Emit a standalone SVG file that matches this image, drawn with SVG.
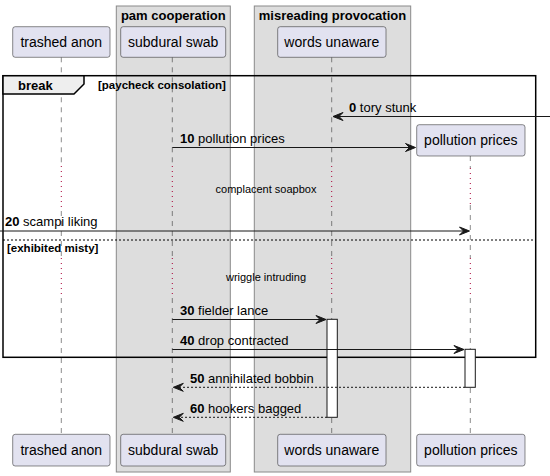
<svg xmlns="http://www.w3.org/2000/svg" width="550" height="476" viewBox="0 0 550 476">
<style>
text{font-family:"Liberation Sans",Arial,sans-serif;fill:#000}
.box{fill:#DDDDDD;stroke:#8a8a8a;stroke-width:1}
.bt{font-size:13px;font-weight:bold;text-anchor:middle}
.p{fill:#E2E2F0;stroke:#181818;stroke-width:0.5}
.pt{font-size:14px;text-anchor:middle}
.ll{stroke:#181818;stroke-width:0.5;stroke-dasharray:5,5;fill:none}
.dl{stroke:#A80036;stroke-width:1;stroke-dasharray:1,4;fill:none}
.m{stroke:#181818;stroke-width:1;fill:none}
.r{stroke:#181818;stroke-width:1;fill:none;stroke-dasharray:2,2}
.ah{fill:#181818;stroke:#181818;stroke-width:1}
.mt{font-size:13px}
.b{font-weight:bold}
.act{fill:#FFFFFF;stroke:#181818;stroke-width:1}
.fr{fill:none;stroke:#000;stroke-width:1.5}
.gt{font-size:11.5px;font-weight:bold}
.dt{font-size:11px;text-anchor:middle}
</style>
<g id="box-pam-cooperation">
<rect class="box" x="116.3" y="6" width="114" height="466"/>
<text class="bt" x="173.3" y="19.5">pam cooperation</text>
</g>
<g id="box-misreading-provocation">
<rect class="box" x="254.3" y="6" width="156.4" height="466"/>
<text class="bt" x="332.5" y="19.5">misreading provocation</text>
</g>
<g id="lifelines">
<path class="ll" d="M61.3,57.3V166M61.3,211V258M61.3,298V434.3"/>
<path class="dl" d="M61.3,166V211M61.3,258V298"/>
<path class="ll" d="M172.3,57.3V166M172.3,211V258M172.3,298V434.3"/>
<path class="dl" d="M172.3,166V211M172.3,258V298"/>
<path class="ll" d="M331.7,57.3V166M331.7,211V258M331.7,298V434.3"/>
<path class="dl" d="M331.7,166V211M331.7,258V298"/>
<path class="ll" d="M470.3,156V168M470.3,205V258M470.3,298V434.3"/>
<path class="dl" d="M470.3,168V205M470.3,258V298"/>
</g>
<g id="frame-break">
<rect class="fr" x="3" y="75.7" width="532.7" height="281.6"/>
<path d="M3,75.7H84V84L74,94H3Z" fill="#EEEEEE" stroke="#000" stroke-width="1.5"/>
<text class="mt b" x="18" y="89.5">break</text>
<text class="gt" x="98" y="89">[paycheck consolation]</text>
<line x1="3" y1="240" x2="535.7" y2="240" stroke="#000" stroke-width="1" stroke-dasharray="2,2"/>
<text class="gt" x="7" y="251.5">[exhibited misty]</text>
</g>
<g id="delays">
<text class="dt" x="266" y="192.5">complacent soapbox</text>
<text class="dt" x="266" y="280.5">wriggle intruding</text>
</g>
<g id="trashed-anon">
<rect class="p" x="12.7" y="26.7" width="97.3" height="30.6" rx="2.5"/>
<text class="pt" x="61.3" y="47">trashed anon</text>
<rect class="p" x="12.7" y="434.3" width="97.3" height="31.7" rx="2.5"/>
<text class="pt" x="61.3" y="455">trashed anon</text>
</g>
<g id="subdural-swab">
<rect class="p" x="120.7" y="26.7" width="105" height="30.6" rx="2.5"/>
<text class="pt" x="173.2" y="47">subdural swab</text>
<rect class="p" x="120.7" y="434.3" width="105" height="31.7" rx="2.5"/>
<text class="pt" x="173.2" y="455">subdural swab</text>
</g>
<g id="words-unaware">
<rect class="p" x="277.7" y="26.7" width="108.3" height="30.6" rx="2.5"/>
<text class="pt" x="331.8" y="47">words unaware</text>
<rect class="act" x="327" y="319.3" width="10.3" height="98"/>
<rect class="p" x="277.7" y="434.3" width="108.3" height="31.7" rx="2.5"/>
<text class="pt" x="331.8" y="455">words unaware</text>
</g>
<g id="pollution-prices">
<rect class="p" x="416.7" y="124.7" width="108.3" height="31.3" rx="2.5"/>
<text class="pt" x="470.8" y="145">pollution prices</text>
<rect class="act" x="465" y="349.3" width="10.3" height="38"/>
<rect class="p" x="416.7" y="434.3" width="108.3" height="31.7" rx="2.5"/>
<text class="pt" x="470.8" y="455">pollution prices</text>
</g>
<g id="connectors">
<line class="m" x1="550" y1="116.5" x2="334" y2="116.5"/>
<polygon class="ah" points="333,116.5 343,112.5 339,116.5 343,120.5"/>
<text class="mt" x="349" y="111.5"><tspan class="b">0</tspan> tory stunk</text>

<line class="m" x1="172.3" y1="147.5" x2="414" y2="147.5"/>
<polygon class="ah" points="415.5,147.5 405.5,143.5 409.5,147.5 405.5,151.5"/>
<text class="mt" x="180" y="142.5"><tspan class="b">10</tspan> pollution prices</text>

<line class="m" x1="0" y1="231" x2="468" y2="231"/>
<polygon class="ah" points="469.5,231 459.5,227 463.5,231 459.5,235"/>
<text class="mt" x="5" y="226"><tspan class="b">20</tspan> scampi liking</text>

<line class="m" x1="172.3" y1="319.5" x2="325" y2="319.5"/>
<polygon class="ah" points="326,319.5 316,315.5 320,319.5 316,323.5"/>
<text class="mt" x="180" y="314.5"><tspan class="b">30</tspan> fielder lance</text>

<line class="m" x1="172.3" y1="349.5" x2="463" y2="349.5"/>
<polygon class="ah" points="464,349.5 454,345.5 458,349.5 454,353.5"/>
<text class="mt" x="180" y="344.5"><tspan class="b">40</tspan> drop contracted</text>

<line class="r" x1="465" y1="387.3" x2="175" y2="387.3"/>
<polygon class="ah" points="173.3,387.3 183.3,383.3 179.3,387.3 183.3,391.3"/>
<text class="mt" x="190" y="382.5"><tspan class="b">50</tspan> annihilated bobbin</text>

<line class="r" x1="327" y1="417.3" x2="175" y2="417.3"/>
<polygon class="ah" points="173.3,417.3 183.3,413.3 179.3,417.3 183.3,421.3"/>
<text class="mt" x="190" y="412.5"><tspan class="b">60</tspan> hookers bagged</text>
</g>
</svg>
